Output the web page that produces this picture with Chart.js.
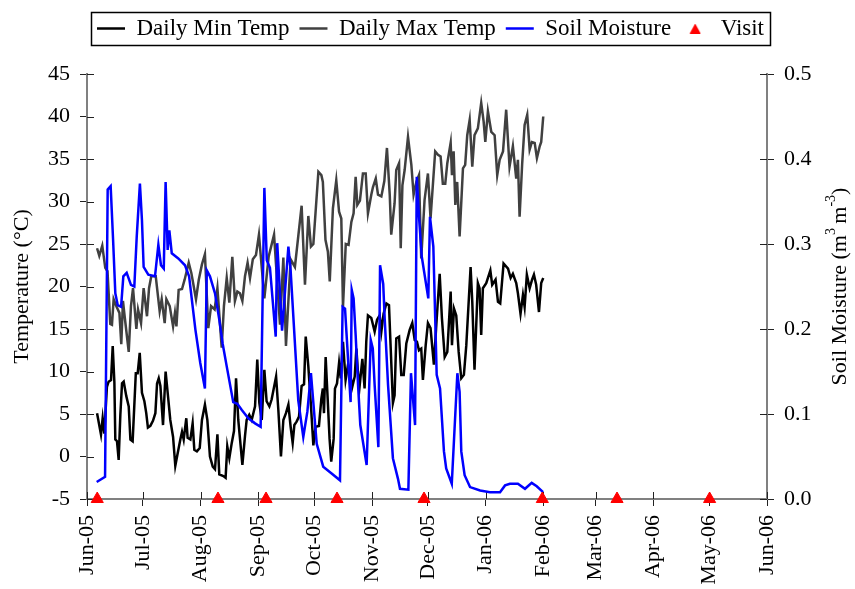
<!DOCTYPE html>
<html>
<head>
<meta charset="utf-8">
<script src="https://cdn.jsdelivr.net/npm/chart.js@4.4.1/dist/chart.umd.min.js"></script>
<style>
html,body{margin:0;padding:0;background:#ffffff;}
#wrap{width:855px;height:589px;}
</style>
</head>
<body>
<div id="wrap"><canvas id="c" width="855" height="589"></canvas></div>
<script>
// ---- axis ticks (days since 1 Jun 2005) ----
const monthDays = [0, 30, 61, 92, 122, 153, 183, 214, 245, 273, 304, 334, 365];
const monthLabels = ['Jun-05','Jul-05','Aug-05','Sep-05','Oct-05','Nov-05','Dec-05','Jan-06','Feb-06','Mar-06','Apr-06','May-06','Jun-06'];

// ---- Daily Max Temp ----
const maxDays = [5.4,6.6,8.2,9.8,11.0,12.5,13.4,14.3,15.7,17.4,18.4,19.3,20.2,22.4,23.6,24.7,26.5,27.4,29.0,30.4,32.2,33.3,34.5,36.9,39.0,40.1,41.7,42.6,44.4,46.2,47.2,48.0,49.2,51.0,52.4,54.6,56.0,57.3,58.5,60.0,61.7,63.3,65.1,66.6,68.5,70.0,72.3,73.5,75.0,76.4,78.0,79.4,80.7,82.1,83.4,84.8,86.2,87.5,89.0,90.7,92.3,95.2,97.5,100.4,103.6,105.4,106.8,109.3,111.6,115.2,117.0,118.8,120.2,121.5,124.2,125.8,126.6,128.0,129.3,130.3,132.0,133.8,135.3,136.5,137.4,138.9,140.4,141.9,143.1,144.2,145.1,146.5,148.1,149.6,150.8,152.6,153.5,155.0,156.2,158.0,159.6,161.0,162.5,163.3,165.1,166.0,167.5,168.4,169.3,170.5,172.3,174.1,175.3,176.8,178.2,179.4,181.2,183.0,184.4,186.9,188.4,189.8,191.0,192.3,193.4,195.2,195.9,196.8,197.7,198.7,200.0,201.8,203.0,204.1,205.4,206.8,208.0,209.8,211.6,212.9,213.8,215.2,217.0,218.8,220.2,221.5,223.3,225.0,226.8,228.6,230.4,231.3,232.2,233.6,234.9,236.3,237.6,238.8,240.3,241.5,243.0,243.8,244.9];
const maxTemp = [24.5,23.6,24.8,22.2,21.8,15.6,15.5,18.5,17.7,16.9,13.2,18.3,16.5,12.3,17.7,19.8,15.0,17.3,15.7,19.8,16.5,19.8,21.2,21.2,17.1,18.5,15.7,18.5,17.7,15.3,16.9,15.3,19.6,19.7,20.8,22.8,21.6,20.0,18.5,20.8,22.6,23.8,15.1,17.7,17.3,19.8,12.8,17.7,21.0,18.1,23.5,18.3,19.4,19.2,18.3,21.2,22.8,21.0,23.2,23.7,26.1,18.6,23.5,26.1,15.5,23.4,13.0,23.2,22.3,29.5,20.2,28.3,24.7,25.0,33.5,33.1,32.3,25.5,24.1,20.6,29.2,32.5,28.8,28.0,17.6,25.0,24.9,27.6,28.6,32.9,29.6,30.1,33.3,33.3,28.6,30.8,31.7,32.7,30.8,30.6,32.4,36.3,30.8,26.1,29.8,33.7,34.5,24.5,31.9,33.7,37.6,34.3,30.8,32.3,33.1,23.3,30.2,33.3,28.0,35.9,35.5,35.3,32.1,32.1,34.5,36.9,33.1,35.9,29.6,32.3,25.9,33.9,34.3,37.8,39.6,34.1,37.8,38.6,41.6,39.4,37.0,40.6,38.2,37.8,33.1,34.9,35.9,40.8,34.1,36.5,32.7,34.9,28.2,34.5,39.0,40.2,36.1,37.0,36.9,35.1,36.5,37.0,40.0];

// ---- Daily Min Temp ----
const minDays = [5.4,7.5,8.4,9.3,10.7,11.6,12.9,13.8,14.7,15.2,16.1,17.0,17.9,18.8,19.7,21.1,22.4,23.3,24.5,26.2,27.2,28.3,29.5,30.8,31.8,32.7,34.0,35.4,36.7,37.6,38.5,39.4,40.8,42.2,43.3,44.7,46.2,47.4,48.7,50.1,51.0,51.9,53.3,54.0,55.5,56.7,57.6,59.0,60.5,61.7,63.3,64.6,66.0,67.5,68.7,70.0,71.0,73.2,74.4,75.3,76.4,77.7,78.9,80.0,81.2,83.4,84.8,85.7,87.1,88.4,90.2,91.4,92.5,93.8,95.2,96.4,97.9,99.1,101.5,102.7,104.1,105.4,106.8,108.1,109.3,110.4,111.3,112.5,113.8,115.2,116.5,117.4,118.8,120.2,121.5,122.7,124.5,125.8,126.6,127.2,128.1,129.0,130.2,131.1,132.4,133.1,134.2,135.3,136.2,137.4,138.8,140.1,141.3,142.4,143.7,144.6,145.4,146.3,147.8,149.0,149.9,150.8,152.6,154.4,155.7,157.1,158.0,159.2,160.7,162.1,162.8,164.2,165.1,166.0,167.5,168.7,170.0,171.4,173.2,174.6,175.9,177.1,178.2,179.4,180.3,181.8,183.0,184.4,186.2,187.5,189.3,190.5,192.0,193.4,195.2,195.9,197.0,198.2,199.5,200.9,202.3,203.6,205.9,206.8,208.0,209.8,210.7,211.6,212.5,214.3,216.5,217.5,219.3,220.6,221.8,223.6,226.0,227.4,228.6,230.4,231.3,232.7,234.0,234.9,236.1,237.6,238.9,239.9,241.1,242.6,243.8,244.9];
const minTemp = [5.1,2.6,4.5,2.7,8.2,8.8,9.0,13.0,8.7,2.0,1.8,-0.4,4.9,8.6,8.8,7.1,5.9,2.0,1.8,9.8,9.8,12.2,7.5,6.5,5.1,3.4,3.6,4.2,5.1,8.6,9.2,8.3,3.7,10.0,7.5,4.3,2.3,-1.1,0.4,2.0,2.9,2.0,4.5,2.2,2.0,3.9,0.8,0.6,1.0,4.3,6.1,4.3,0.0,-1.2,-1.5,2.6,-2.1,-2.3,-2.5,1.2,-0.2,1.6,3.0,9.2,4.3,-1.0,2.4,4.3,4.9,4.3,5.9,11.4,6.3,4.3,10.2,6.5,5.9,6.7,9.4,5.5,0.0,4.3,5.1,6.1,3.5,1.6,3.7,4.1,4.7,8.3,8.5,14.1,10.6,6.0,1.3,3.5,3.6,6.8,8.0,5.1,11.7,7.6,2.1,-0.6,2.1,8.0,8.6,11.0,9.2,13.5,9.0,10.8,9.6,8.2,9.4,12.7,10.0,8.2,11.5,8.0,13.5,16.6,16.3,14.7,16.1,16.6,14.7,16.8,18.0,17.8,13.9,6.3,7.2,13.9,14.1,9.6,9.6,13.3,14.9,15.7,13.7,13.5,12.5,12.7,9.0,13.1,15.7,15.1,10.8,15.5,21.5,16.3,11.7,12.3,19.4,13.1,17.4,16.6,12.3,9.2,9.6,13.1,22.3,18.2,10.2,20.4,19.8,14.3,19.8,20.4,21.9,20.2,20.8,18.2,18.0,22.7,22.1,21.0,21.5,20.4,19.2,16.8,19.0,17.6,21.4,19.8,20.8,21.4,20.2,17.0,20.4,21.0];

// ---- Soil Moisture (m3 m-3) ----
const soilDays = [5.2,9.7,11.1,12.7,14.0,15.2,16.5,18.3,19.5,21.3,23.6,25.4,26.7,28.4,29.5,30.4,32.9,36.5,38.3,39.7,41.2,42.2,43.3,44.2,45.5,49.0,52.6,54.8,58.2,60.8,63.3,64.3,66.0,68.7,71.0,72.8,75.0,78.5,80.7,83.0,86.6,90.2,93.2,95.2,96.5,98.2,101.3,102.1,104.7,108.1,109.3,113.4,116.1,118.3,120.2,123.3,126.8,131.3,135.8,137.2,138.5,141.5,142.1,143.1,144.2,145.5,146.7,150.1,152.3,153.4,154.4,156.4,157.3,159.0,159.8,161.6,164.2,166.9,168.0,172.5,173.9,176.1,177.0,178.2,179.7,183.2,184.1,185.9,187.7,189.5,191.6,192.8,195.8,198.8,200.0,200.9,202.7,205.6,211.0,216.3,221.7,224.4,227.0,231.3,235.1,238.7,241.4,244.8];
const soilMoist = [0.020,0.026,0.364,0.368,0.305,0.242,0.228,0.226,0.262,0.266,0.252,0.250,0.309,0.371,0.328,0.273,0.264,0.262,0.299,0.275,0.271,0.373,0.293,0.316,0.289,0.283,0.275,0.262,0.199,0.160,0.130,0.269,0.262,0.242,0.211,0.183,0.156,0.114,0.112,0.105,0.095,0.089,0.085,0.366,0.281,0.272,0.191,0.301,0.198,0.297,0.269,0.116,0.073,0.103,0.148,0.065,0.038,0.030,0.022,0.226,0.224,0.114,0.246,0.236,0.193,0.134,0.087,0.040,0.187,0.177,0.134,0.061,0.275,0.253,0.212,0.134,0.048,0.024,0.012,0.011,0.148,0.087,0.379,0.332,0.285,0.236,0.332,0.297,0.146,0.130,0.056,0.036,0.018,0.148,0.126,0.056,0.028,0.014,0.010,0.008,0.008,0.016,0.018,0.018,0.012,0.019,0.015,0.008];

// ---- Visits ----
const visitDays = [5.5, 70.3, 96.1, 134.2, 180.9, 244.4, 284.5, 334.2];
const visitTemp = [-5, -5, -5, -5, -5, -5, -5, -5];

const FONT = "'Liberation Serif','Times New Roman',serif";
Chart.defaults.font.family = FONT;
Chart.defaults.font.size = 22;
Chart.defaults.color = '#000';

const pts = (xs, ys) => xs.map((x, i) => ({x: x, y: ys[i]}));

// small red triangle icon for the legend entry
const triIcon = document.createElement('canvas');
triIcon.width = 12; triIcon.height = 10;
(function () {
  const c = triIcon.getContext('2d');
  c.fillStyle = '#ff0000';
  c.beginPath(); c.moveTo(6, 0); c.lineTo(11.5, 10); c.lineTo(0.5, 10); c.closePath(); c.fill();
})();

const legendSpacer = {
  id: 'legendSpacer',
  beforeInit(chart) {
    if (!chart.legend) return;
    const origFit = chart.legend.fit;
    chart.legend.fit = function () {
      origFit.bind(chart.legend)();
      this.height += 24;
    };
  }
};

const legendBox = {
  id: 'legendBox',
  afterDraw(chart) {
    const hb = chart.legend && chart.legend.legendHitBoxes;
    if (!hb || !hb.length) return;
    let l = Infinity, r = -Infinity, t = Infinity, b = -Infinity;
    hb.forEach(h => { l = Math.min(l, h.left); r = Math.max(r, h.left + h.width); t = Math.min(t, h.top); b = Math.max(b, h.top + h.height); });
    const ctx = chart.ctx;
    ctx.save();
    ctx.strokeStyle = '#000';
    ctx.lineWidth = 1.5;
    ctx.strokeRect(Math.round(l - 6) + 0.5, Math.round(t - 5) + 0.5, Math.round(r - l + 12), Math.round(b - t + 10));
    ctx.restore();
  }
};

const innerTicks = {
  id: 'innerTicks',
  beforeDatasetsDraw(chart) {
    const {ctx, chartArea: a, scales} = chart;
    ctx.save();
    ctx.strokeStyle = '#222';
    ctx.lineWidth = 1;
    ctx.beginPath();
    scales.x.ticks.forEach(t => { const p = Math.round(scales.x.getPixelForValue(t.value)) + 0.5; ctx.moveTo(p, a.bottom); ctx.lineTo(p, a.bottom - 7); });
    scales.y.ticks.forEach(t => { const p = Math.round(scales.y.getPixelForValue(t.value)) + 0.5; ctx.moveTo(a.left, p); ctx.lineTo(a.left + 7, p); });
    scales.y1.ticks.forEach(t => { const p = Math.round(scales.y1.getPixelForValue(t.value)) + 0.5; ctx.moveTo(a.right, p); ctx.lineTo(a.right - 7, p); });
    ctx.stroke();
    ctx.restore();
  }
};

const rightTitle = {
  id: 'rightTitle',
  afterDraw(chart) {
    const {ctx, chartArea: a} = chart;
    const parts = [
      {t: 'Soil Moisture (m', s: 22, dy: 0},
      {t: '3', s: 14, dy: -9},
      {t: '\u2009m', s: 22, dy: 0},
      {t: '-3', s: 14, dy: -9},
      {t: ')', s: 22, dy: 0}
    ];
    ctx.save();
    ctx.fillStyle = '#000';
    ctx.textBaseline = 'middle';
    ctx.textAlign = 'left';
    let total = 0;
    parts.forEach(p => { ctx.font = p.s + 'px ' + FONT; p.w = ctx.measureText(p.t).width; total += p.w; });
    const cx = chart.scales.y1.right - 15;
    const cy = (a.top + a.bottom) / 2;
    ctx.translate(cx, cy);
    ctx.rotate(-Math.PI / 2);
    let x = -total / 2;
    parts.forEach(p => { ctx.font = p.s + 'px ' + FONT; ctx.fillText(p.t, x, p.dy); x += p.w; });
    ctx.restore();
  }
};

const gridOpts = {display: true, drawOnChartArea: false, drawTicks: true, tickLength: 7, color: '#222', lineWidth: 1};
const borderOpts = {display: true, color: '#808080', width: 2};

new Chart(document.getElementById('c'), {
  type: 'line',
  data: {
    datasets: [
      {label: 'Daily Min Temp', data: pts(minDays, minTemp), yAxisID: 'y', borderColor: '#000000', backgroundColor: '#000000', borderWidth: 2.5, pointRadius: 0, pointHoverRadius: 0, pointStyle: 'line', pointBorderWidth: 2.5, tension: 0, order: 3},
      {label: 'Daily Max Temp', data: pts(maxDays, maxTemp), yAxisID: 'y', borderColor: '#404040', backgroundColor: '#404040', borderWidth: 2.5, pointRadius: 0, pointHoverRadius: 0, pointStyle: 'line', pointBorderWidth: 2.5, tension: 0, order: 2},
      {label: 'Soil Moisture', data: pts(soilDays, soilMoist), yAxisID: 'y1', borderColor: '#0000ff', backgroundColor: '#0000ff', borderWidth: 2.5, pointRadius: 0, pointHoverRadius: 0, pointStyle: 'line', pointBorderWidth: 2.5, tension: 0, order: 1},
      {label: 'Visit', data: pts(visitDays, visitTemp), yAxisID: 'y', showLine: false, pointStyle: 'triangle', pointRadius: 7, pointBackgroundColor: '#ff0000', pointBorderColor: '#ff0000', backgroundColor: '#ff0000', borderColor: '#ff0000', pointBorderWidth: 1, clip: false, order: 0}
    ]
  },
  options: {
    responsive: false,
    animation: false,
    events: [],
    layout: {padding: {top: 7, left: 6, right: 0, bottom: 0}},
    plugins: {
      tooltip: {enabled: false},
      legend: {
        position: 'top',
        align: 'center',
        labels: {
          usePointStyle: true,
          pointStyleWidth: 28,
          boxHeight: 8,
          padding: 10,
          color: '#000',
          font: {size: 23, family: FONT},
          sort: (a, b) => a.datasetIndex - b.datasetIndex,
          generateLabels: (chart) => {
            const items = Chart.defaults.plugins.legend.labels.generateLabels(chart);
            items.forEach(it => { if (it.text === 'Visit') it.pointStyle = triIcon; });
            return items;
          }
        }
      }
    },
    scales: {
      x: {
        type: 'linear', position: 'bottom', min: 0, max: 365,
        afterBuildTicks: s => { s.ticks = monthDays.map(v => ({value: v})); },
        afterFit: s => { s.height = 90; },
        ticks: {autoSkip: false, maxRotation: 90, minRotation: 90, padding: 9, color: '#000', font: {size: 22}, callback: (v, i) => monthLabels[i]},
        grid: gridOpts,
        border: borderOpts
      },
      y: {
        type: 'linear', position: 'left', min: -5, max: 45,
        afterFit: s => { s.width = 81; },
        ticks: {stepSize: 5, padding: 10, color: '#000', font: {size: 22}},
        title: {display: true, text: 'Temperature (°C)', color: '#000', font: {size: 22}, padding: {top: 3, bottom: 0}},
        grid: gridOpts,
        border: borderOpts
      },
      y1: {
        type: 'linear', position: 'right', min: 0, max: 0.5,
        afterFit: s => { s.width = 88; },
        ticks: {stepSize: 0.1, padding: 10, color: '#000', font: {size: 22}, callback: v => Number(v).toFixed(1)},
        grid: gridOpts,
        border: borderOpts
      }
    }
  },
  plugins: [legendSpacer, legendBox, innerTicks, rightTitle]
});
</script>
</body>
</html>
